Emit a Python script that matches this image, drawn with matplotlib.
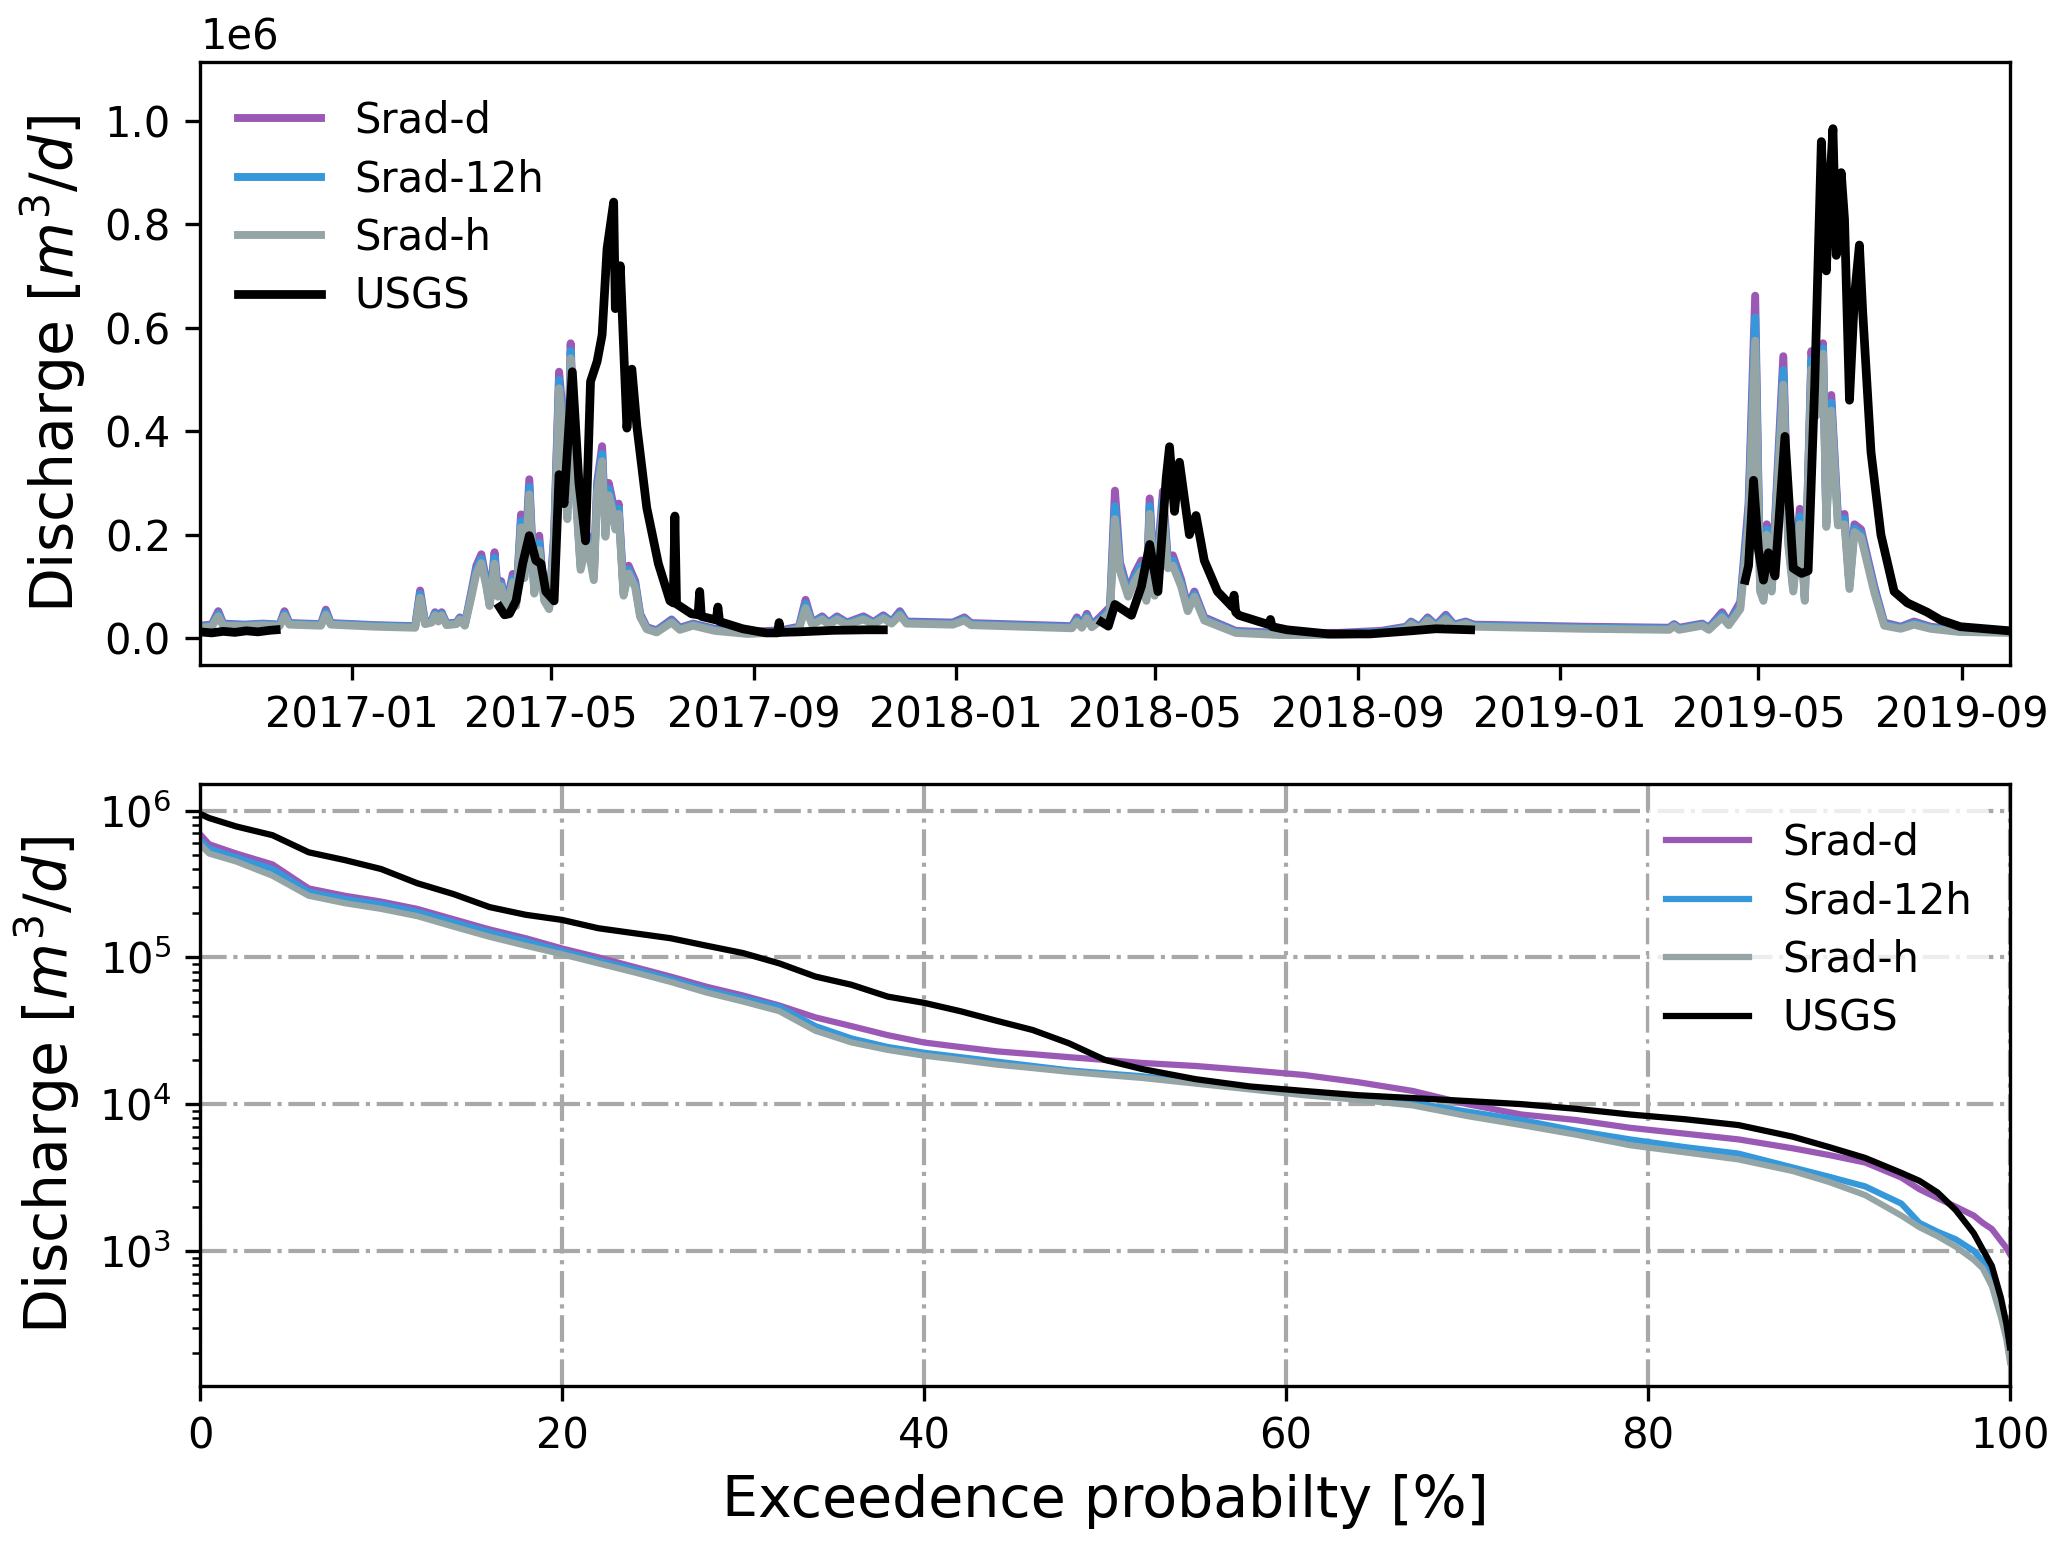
import numpy as np
import matplotlib.pyplot as plt
import matplotlib.dates as mdates

# ---- daily discharge (1e6 m3/d), simulated runs ----
sim_dates = [
    '2016-10-01', '2016-10-08', '2016-10-12', '2016-10-15', '2016-10-28', '2016-11-08',
    '2016-11-18', '2016-11-21', '2016-11-24', '2016-12-13', '2016-12-16', '2016-12-19',
    '2017-01-15', '2017-02-08', '2017-02-11', '2017-02-14', '2017-02-18', '2017-02-20',
    '2017-02-22', '2017-02-24', '2017-02-27', '2017-03-05', '2017-03-07', '2017-03-10',
    '2017-03-14', '2017-03-17', '2017-03-20', '2017-03-23', '2017-03-25', '2017-03-28',
    '2017-03-30', '2017-04-01', '2017-04-04', '2017-04-08', '2017-04-10', '2017-04-13',
    '2017-04-15', '2017-04-18', '2017-04-21', '2017-04-24', '2017-04-27', '2017-04-30',
    '2017-05-03', '2017-05-06', '2017-05-08', '2017-05-11', '2017-05-13', '2017-05-16',
    '2017-05-19', '2017-05-23', '2017-05-27', '2017-05-29', '2017-06-01', '2017-06-03',
    '2017-06-05', '2017-06-07', '2017-06-09', '2017-06-11', '2017-06-14', '2017-06-17',
    '2017-06-21', '2017-06-24', '2017-06-28', '2017-07-04', '2017-07-13', '2017-07-18',
    '2017-07-26', '2017-08-08', '2017-08-28', '2017-09-17', '2017-09-28', '2017-10-02',
    '2017-10-06', '2017-10-12', '2017-10-16', '2017-10-21', '2017-10-27', '2017-11-06',
    '2017-11-12', '2017-11-18', '2017-11-23', '2017-11-28', '2017-12-02', '2017-12-30',
    '2018-01-06', '2018-01-10', '2018-02-20', '2018-03-12', '2018-03-15', '2018-03-18',
    '2018-03-21', '2018-03-24', '2018-03-31', '2018-04-04', '2018-04-07', '2018-04-10',
    '2018-04-15', '2018-04-19', '2018-04-23', '2018-04-26', '2018-04-28', '2018-05-01',
    '2018-05-06', '2018-05-09', '2018-05-12', '2018-05-17', '2018-05-21', '2018-05-25',
    '2018-05-31', '2018-06-19', '2018-07-15', '2018-08-20', '2018-09-15', '2018-09-30',
    '2018-10-03', '2018-10-08', '2018-10-13', '2018-10-18', '2018-10-24', '2018-10-29',
    '2018-11-05', '2018-11-10', '2019-01-15', '2019-03-08', '2019-03-11', '2019-03-14',
    '2019-03-28', '2019-04-01', '2019-04-09', '2019-04-13', '2019-04-20', '2019-04-25',
    '2019-04-29', '2019-05-02', '2019-05-04', '2019-05-06', '2019-05-09', '2019-05-16',
    '2019-05-19', '2019-05-22', '2019-05-26', '2019-05-29', '2019-06-02', '2019-06-05',
    '2019-06-09', '2019-06-11', '2019-06-14', '2019-06-18', '2019-06-22', '2019-06-25',
    '2019-06-28', '2019-07-02', '2019-07-10', '2019-07-16', '2019-07-26', '2019-08-03',
    '2019-08-13', '2019-08-30', '2019-09-30',
]
srad_d = [
    .024, .026, .052, .028, .026, .028, .026, .052, .029, .027, .055, .029,
    .025, .023, .092, .030, .034, .050, .036, .050, .028, .030, .040, .026,
    .090, .140, .162, .110, .070, .166, .090, .110, .060, .124, .070, .239,
    .130, .307, .095, .198, .080, .062, .200, .515, .440, .250, .570, .300,
    .144, .200, .124, .300, .371, .214, .300, .270, .227, .260, .090, .140,
    .110, .047, .021, .015, .036, .020, .028, .018, .012, .015, .022, .074,
    .030, .042, .030, .042, .030, .042, .031, .044, .032, .052, .032, .030,
    .040, .029, .025, .023, .040, .024, .047, .025, .047, .060, .285, .147,
    .090, .125, .150, .080, .270, .090, .284, .150, .160, .113, .060, .090,
    .040, .014, .010, .010, .014, .022, .032, .022, .040, .025, .045, .026,
    .032, .026, .022, .020, .027, .020, .028, .020, .050, .030, .070, .260,
    .662, .100, .080, .220, .100, .545, .200, .100, .250, .080, .555, .450,
    .570, .230, .470, .235, .240, .105, .220, .210, .100, .030, .022, .032,
    .022, .016, .014,
]
srad_12h = [
    .022, .024, .047, .026, .025, .027, .025, .047, .028, .026, .050, .028,
    .024, .022, .085, .029, .032, .047, .034, .047, .027, .029, .038, .025,
    .085, .132, .153, .105, .066, .155, .085, .105, .057, .115, .066, .226,
    .123, .292, .090, .184, .076, .059, .190, .499, .425, .240, .555, .290,
    .138, .192, .118, .290, .356, .205, .288, .260, .218, .250, .086, .132,
    .104, .044, .019, .013, .033, .018, .026, .016, .010, .013, .020, .066,
    .028, .039, .028, .039, .028, .039, .029, .041, .030, .048, .030, .028,
    .037, .027, .023, .021, .036, .022, .042, .023, .042, .055, .255, .138,
    .085, .118, .140, .076, .255, .086, .267, .142, .150, .106, .056, .085,
    .037, .012, .008, .008, .012, .020, .030, .020, .037, .023, .041, .024,
    .030, .024, .020, .018, .025, .018, .026, .018, .045, .027, .063, .240,
    .620, .095, .076, .210, .095, .518, .190, .095, .235, .076, .538, .440,
    .560, .222, .455, .226, .230, .100, .212, .202, .094, .027, .020, .029,
    .020, .014, .012,
]
srad_h = [
    .020, .022, .042, .024, .023, .025, .023, .043, .026, .024, .045, .026,
    .022, .020, .078, .027, .030, .044, .032, .044, .025, .027, .036, .024,
    .080, .125, .145, .100, .062, .144, .080, .100, .055, .108, .062, .214,
    .116, .278, .086, .170, .072, .056, .180, .483, .410, .230, .541, .280,
    .132, .185, .112, .280, .342, .196, .276, .250, .210, .240, .082, .125,
    .098, .041, .017, .011, .030, .016, .024, .014, .008, .011, .018, .058,
    .026, .036, .026, .036, .026, .036, .027, .038, .028, .044, .028, .026,
    .034, .025, .021, .019, .032, .020, .038, .021, .038, .050, .230, .130,
    .080, .110, .130, .072, .240, .082, .250, .135, .140, .100, .052, .080,
    .034, .010, .006, .006, .010, .018, .027, .018, .034, .021, .037, .022,
    .028, .022, .018, .016, .023, .016, .024, .016, .040, .025, .056, .220,
    .575, .090, .072, .200, .090, .490, .180, .090, .220, .072, .520, .430,
    .550, .215, .440, .218, .220, .095, .205, .195, .088, .024, .018, .026,
    .018, .012, .010,
]

# ---- observed discharge (1e6 m3/d), NaN = gap in record ----
usgs_dates = [
    '2016-10-01', '2016-10-08', '2016-10-15', '2016-10-22', '2016-10-29', '2016-11-05',
    '2016-11-12', '2016-11-16', '2016-11-17',
    '2017-03-31', '2017-04-03', '2017-04-06', '2017-04-10', '2017-04-14', '2017-04-18',
    '2017-04-22', '2017-04-25', '2017-04-28', '2017-05-03', '2017-05-06', '2017-05-09',
    '2017-05-14', '2017-05-18', '2017-05-22', '2017-05-25', '2017-05-29', '2017-06-01',
    '2017-06-04', '2017-06-08', '2017-06-09', '2017-06-12', '2017-06-16', '2017-06-19',
    '2017-06-22', '2017-06-28', '2017-07-05', '2017-07-12', '2017-07-14', '2017-07-15',
    '2017-07-16', '2017-07-25', '2017-07-29', '2017-07-30', '2017-07-31', '2017-08-09',
    '2017-08-10', '2017-08-11', '2017-08-25', '2017-09-08', '2017-09-15', '2017-09-16',
    '2017-09-17', '2017-09-28', '2017-10-19', '2017-11-08', '2017-11-18', '2017-11-19',
    '2018-03-30', '2018-04-03', '2018-04-07', '2018-04-17', '2018-04-23', '2018-04-28',
    '2018-05-03', '2018-05-08', '2018-05-10', '2018-05-13', '2018-05-16', '2018-05-22',
    '2018-05-26', '2018-05-31', '2018-06-08', '2018-06-17', '2018-06-18', '2018-06-19',
    '2018-06-21', '2018-07-09', '2018-07-10', '2018-07-11', '2018-07-20', '2018-08-14',
    '2018-09-08', '2018-10-03', '2018-10-18', '2018-11-08', '2018-11-09',
    '2019-04-23', '2019-04-25', '2019-04-28', '2019-05-01', '2019-05-04', '2019-05-07',
    '2019-05-11', '2019-05-17', '2019-05-22', '2019-05-27', '2019-05-31', '2019-06-04',
    '2019-06-08', '2019-06-11', '2019-06-13', '2019-06-15', '2019-06-17', '2019-06-20',
    '2019-06-22', '2019-06-25', '2019-06-28', '2019-07-01', '2019-07-03', '2019-07-08',
    '2019-07-14', '2019-07-22', '2019-07-30', '2019-08-11', '2019-08-19', '2019-08-31',
    '2019-09-30',
]
usgs_q = [
    .012, .010, .013, .011, .014, .012, .015, .016, np.nan,
    .060, .045, .047, .072, .144, .198, .150, .144, .090, .072, .316, .260,
    .515, .300, .188, .496, .535, .586, .753, .843, .637, .720, .406, .520,
    .410, .252, .144, .072, .068, .236, .066, .047, .045, .090, .042, .035,
    .060, .032, .018, .010, .010, .030, .011, .012, .015, .016, .016, np.nan,
    .031, .023, .065, .044, .100, .181, .090, .310, .370, .245, .340, .200,
    .237, .150, .090, .060, .083, .050, .044, .026, .036, .022, .016, .008,
    .008, .014, .018, .016, np.nan,
    .112, .140, .305, .170, .112, .165, .120, .390, .135, .125, .130, .490,
    .960, .710, .870, .985, .740, .900, .810, .460, .660, .760, .630, .360,
    .200, .090, .068, .050, .035, .022, .014,
]

# ---- flow duration curves (m3/d) ----
fdc_pct = [0, 0.5, 2, 4, 6, 8, 10, 12, 14, 16, 18, 20, 22, 24, 26, 28, 30, 32, 34, 36,
           38, 40, 42, 44, 46, 48, 50, 52, 55, 58, 61, 64, 67, 70, 73, 76, 79, 82, 85,
           88, 90, 92, 94, 95, 96, 97, 98, 98.5, 99, 99.5, 99.8, 100]
fdc_srad_d = [6.9e5, 5.9e5, 5.1e5, 4.3e5, 2.95e5, 2.63e5, 2.4e5, 2.14e5, 1.82e5, 1.55e5,
              1.35e5, 1.15e5, 1.0e5, 8.6e4, 7.4e4, 6.3e4, 5.5e4, 4.7e4, 3.9e4, 3.4e4,
              2.95e4, 2.63e4, 2.45e4, 2.29e4, 2.19e4, 2.09e4, 2.0e4, 1.91e4, 1.82e4,
              1.7e4, 1.58e4, 1.41e4, 1.23e4, 1.0e4, 8.5e3, 7.8e3, 6.9e3, 6.3e3, 5.75e3,
              5.0e3, 4.5e3, 4.0e3, 3.16e3, 2.63e3, 2.29e3, 2.0e3, 1.74e3, 1.55e3, 1.41e3,
              1.17e3, 1.05e3, 950]
fdc_srad_12h = [6.3e5, 5.5e5, 4.8e5, 4.0e5, 2.8e5, 2.5e5, 2.3e5, 2.04e5, 1.74e5, 1.48e5,
                1.29e5, 1.1e5, 9.5e4, 8.3e4, 7.1e4, 6.0e4, 5.25e4, 4.6e4, 3.4e4, 2.8e4,
                2.45e4, 2.24e4, 2.09e4, 1.95e4, 1.82e4, 1.7e4, 1.62e4, 1.55e4, 1.41e4,
                1.29e4, 1.17e4, 1.12e4, 1.02e4, 8.9e3, 7.8e3, 6.6e3, 5.75e3, 5.1e3, 4.6e3,
                3.7e3, 3.2e3, 2.75e3, 2.1e3, 1.55e3, 1.35e3, 1.2e3, 1.0e3, 850, 660,
                420, 280, 186]
fdc_srad_h = [5.9e5, 5.1e5, 4.5e5, 3.6e5, 2.63e5, 2.34e5, 2.14e5, 1.91e5, 1.62e5, 1.38e5,
              1.2e5, 1.05e5, 9.1e4, 7.9e4, 6.8e4, 5.75e4, 5.0e4, 4.3e4, 3.16e4, 2.63e4,
              2.34e4, 2.14e4, 2.0e4, 1.86e4, 1.76e4, 1.66e4, 1.58e4, 1.51e4, 1.38e4,
              1.26e4, 1.15e4, 1.07e4, 9.8e3, 8.3e3, 7.2e3, 6.2e3, 5.25e3, 4.7e3, 4.2e3,
              3.5e3, 2.95e3, 2.4e3, 1.74e3, 1.45e3, 1.26e3, 1.07e3, 870, 760, 575,
              355, 250, 175]
fdc_usgs = [9.5e5, 8.9e5, 7.8e5, 6.8e5, 5.2e5, 4.6e5, 4.0e5, 3.2e5, 2.7e5, 2.2e5,
            1.95e5, 1.8e5, 1.58e5, 1.46e5, 1.35e5, 1.2e5, 1.07e5, 9.1e4, 7.4e4, 6.5e4,
            5.4e4, 4.9e4, 4.3e4, 3.7e4, 3.2e4, 2.6e4, 2.0e4, 1.74e4, 1.48e4, 1.32e4,
            1.23e4, 1.15e4, 1.10e4, 1.05e4, 1.0e4, 9.3e3, 8.5e3, 7.9e3, 7.2e3, 6.0e3,
            5.1e3, 4.3e3, 3.4e3, 3.0e3, 2.5e3, 1.9e3, 1.32e3, 1.02e3, 790, 480, 320, 220]

COLORS = {'Srad-d': '#9b59b6', 'Srad-12h': '#3498db', 'Srad-h': '#95a5a6', 'USGS': 'black'}

fig = plt.figure(figsize=(2067 / 300, 1545 / 300), dpi=300)
ax1 = fig.add_axes([0.0968, 0.5696, 0.8756, 0.3903])
ax2 = fig.add_axes([0.0968, 0.1029, 0.8756, 0.3897])

# top: hydrograph
t_sim = np.array(sim_dates, dtype='datetime64[D]')
t_obs = np.array(usgs_dates, dtype='datetime64[D]')
for name, vals in [('Srad-d', srad_d), ('Srad-12h', srad_12h), ('Srad-h', srad_h)]:
    ax1.plot(t_sim, np.array(vals) * 1e6, color=COLORS[name], lw=1.9, label=name)
ax1.plot(t_obs, np.array(usgs_q) * 1e6, color=COLORS['USGS'], lw=2.1, label='USGS')

ax1.set_xlim(np.datetime64('2016-10-01'), np.datetime64('2019-09-30'))
ax1.set_ylim(-0.052e6, 1.114e6)
ax1.xaxis.set_major_locator(mdates.MonthLocator(bymonth=[1, 5, 9]))
ax1.xaxis.set_major_formatter(mdates.DateFormatter('%Y-%m'))
ax1.set_ylabel(r'Discharge [$m^3/d$]', fontsize=14)
ax1.legend(loc='upper left', frameon=False, labelspacing=0.4)

# bottom: flow duration curve
for name, vals in [('Srad-d', fdc_srad_d), ('Srad-12h', fdc_srad_12h),
                   ('Srad-h', fdc_srad_h), ('USGS', fdc_usgs)]:
    ax2.plot(fdc_pct, vals, color=COLORS[name], lw=1.5, label=name)
ax2.set_yscale('log')
ax2.set_xlim(0, 100)
ax2.set_ylim(120, 1.52e6)
ax2.grid(True, which='major', ls='-.', color='#a8a8a8', lw=1)
ax2.set_ylabel(r'Discharge [$m^3/d$]', fontsize=14)
ax2.set_xlabel('Exceedence probabilty [%]', fontsize=13.7)
ax2.legend(loc='upper right', edgecolor='none', framealpha=0.8, labelspacing=0.4)

fig.savefig('out.png', dpi=300)
